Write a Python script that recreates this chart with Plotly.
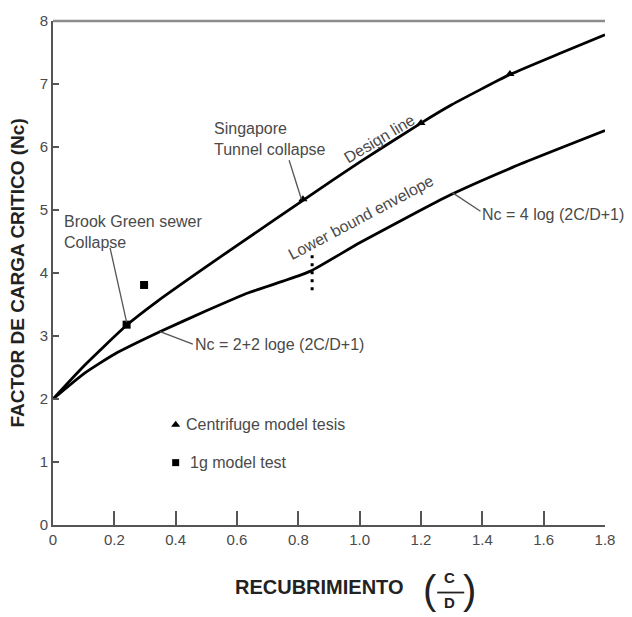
import plotly.graph_objects as go

# Design line (upper curve) read along C/D
design_x = [0, 0.1, 0.24, 0.34, 0.5, 0.61, 0.82, 1.0, 1.2, 1.3, 1.49, 1.65, 1.8]
design_y = [2, 2.52, 3.17, 3.55, 4.1, 4.47, 5.17, 5.76, 6.38, 6.67, 7.15, 7.48, 7.78]

# Lower bound envelope
lower_x = [0, 0.1, 0.2, 0.35, 0.5, 0.64, 0.75, 0.84, 1.0, 1.2, 1.3, 1.5, 1.8]
lower_y = [2, 2.4, 2.71, 3.07, 3.4, 3.69, 3.87, 4.03, 4.48, 5.0, 5.25, 5.68, 6.26]

# Test results
centrifuge_x = [0.815, 1.2, 1.49]
centrifuge_y = [5.17, 6.38, 7.16]
model1g_x = [0.24, 0.297]
model1g_y = [3.18, 3.81]

# Boundary between the two envelope expressions
split_x = [0.845, 0.845]
split_y = [4.28, 3.66]

x_ticks = [0, 0.2, 0.4, 0.6, 0.8, 1.0, 1.2, 1.4, 1.6, 1.8]
x_tick_text = ["0", "0.2", "0.4", "0.6", "0.8", "1.0", "1.2", "1.4", "1.6", "1.8"]
y_ticks = [0, 1, 2, 3, 4, 5, 6, 7, 8]

FONT = "Liberation Sans, Arial, sans-serif"
TXT = "#4a4a4a"
AX = "#555555"

fig = go.Figure()
fig.add_trace(go.Scatter(x=design_x, y=design_y, mode="lines",
                         line=dict(color="black", width=2.8, shape="spline", smoothing=0.5),
                         hoverinfo="skip"))
fig.add_trace(go.Scatter(x=lower_x, y=lower_y, mode="lines",
                         line=dict(color="black", width=2.8, shape="spline", smoothing=0.5),
                         hoverinfo="skip"))
fig.add_trace(go.Scatter(x=split_x, y=split_y, mode="lines",
                         line=dict(color="black", width=3, dash="3px,5px"),
                         hoverinfo="skip"))
fig.add_trace(go.Scatter(x=centrifuge_x, y=centrifuge_y, mode="markers",
                         marker=dict(symbol="triangle-up", size=8, color="black"),
                         hoverinfo="skip"))
fig.add_trace(go.Scatter(x=model1g_x, y=model1g_y, mode="markers",
                         marker=dict(symbol="square", size=8, color="black"),
                         hoverinfo="skip"))

# Key markers
fig.add_trace(go.Scatter(x=[0.4], y=[1.59], mode="markers",
                         marker=dict(symbol="triangle-up", size=8, color="black"),
                         hoverinfo="skip"))
fig.add_trace(go.Scatter(x=[0.4], y=[0.99], mode="markers",
                         marker=dict(symbol="square", size=7, color="black"),
                         hoverinfo="skip"))

annotations = [
    dict(x=0.428, y=1.59, text="Centrifuge model tesis", xanchor="left"),
    dict(x=0.44, y=0.99, text="1g model test", xanchor="left"),
    dict(x=0.52, y=6.12, text="Singapore<br>Tunnel collapse", xanchor="left", align="left"),
    dict(x=0.03, y=4.65, text="Brook Green sewer<br>Collapse", xanchor="left", align="left"),
    dict(x=1.066, y=6.13, text="Design line", textangle=-31),
    dict(x=1.004, y=4.88, text="Lower bound envelope", textangle=-28),
    dict(x=0.458, y=2.86, text="Nc = 2+2 loge (2C/D+1)", xanchor="left"),
    dict(x=1.394, y=4.93, text="Nc = 4 log (2C/D+1)", xanchor="left"),
]
for a in annotations:
    fig.add_annotation(showarrow=False, font=dict(family=FONT, size=16, color=TXT),
                       xref="x", yref="y", yanchor="middle", **a)

# Leader lines from labels to curves
leaders = [
    ((0.77, 5.79), (0.81, 5.17)),
    ((0.186, 4.4), (0.24, 3.22)),
    ((0.349, 3.07), (0.456, 2.87)),
    ((1.301, 5.28), (1.394, 4.98)),
]
for (x0, y0), (x1, y1) in leaders:
    fig.add_shape(type="line", x0=x0, y0=y0, x1=x1, y1=y1, xref="x", yref="y",
                  line=dict(color="#555555", width=1.3))

# Upper frame line
fig.add_shape(type="line", x0=0, x1=1, y0=1, y1=1, xref="paper", yref="paper",
              line=dict(color="#8c8c8c", width=2.5))

# Axis titles
fig.add_annotation(xref="paper", yref="paper", x=-0.066, y=0.5, text="<b>FACTOR DE CARGA CRITICO (Nc)</b>",
                   textangle=-90, showarrow=False, font=dict(family=FONT, size=19, color="#222"),
                   xanchor="center", yanchor="middle")
fig.add_annotation(xref="paper", yref="paper", x=0.482, y=-0.124, text="<b>RECUBRIMIENTO</b>",
                   showarrow=False, font=dict(family=FONT, size=20, color="#222"),
                   xanchor="center", yanchor="middle")
fig.add_annotation(xref="paper", yref="paper", x=0.719, y=-0.104, text="<b>C</b>",
                   showarrow=False, font=dict(family=FONT, size=15, color="#222"),
                   xanchor="center", yanchor="middle")
fig.add_annotation(xref="paper", yref="paper", x=0.719, y=-0.153, text="<b>D</b>",
                   showarrow=False, font=dict(family=FONT, size=15, color="#222"),
                   xanchor="center", yanchor="middle")
fig.add_annotation(xref="paper", yref="paper", x=0.683, y=-0.128, text="(",
                   showarrow=False, font=dict(family=FONT, size=40, color="#222"),
                   xanchor="center", yanchor="middle")
fig.add_annotation(xref="paper", yref="paper", x=0.755, y=-0.128, text=")",
                   showarrow=False, font=dict(family=FONT, size=40, color="#222"),
                   xanchor="center", yanchor="middle")
fig.add_shape(type="line", xref="paper", yref="paper", x0=0.696, x1=0.745, y0=-0.134, y1=-0.134,
              line=dict(color="#222", width=1.8))

fig.update_layout(
    width=632, height=617,
    margin=dict(l=53, r=27, t=17, b=92),
    paper_bgcolor="white", plot_bgcolor="white",
    showlegend=False,
    font=dict(family=FONT, color=TXT),
    xaxis=dict(range=[0, 1.8], tickvals=x_ticks, ticktext=x_tick_text, ticks="inside",
               ticklen=14, tickwidth=1.5, tickcolor=AX, showline=True, linecolor=AX, linewidth=2,
               showgrid=False, zeroline=False, tickfont=dict(family=FONT, size=15, color=TXT)),
    yaxis=dict(range=[0, 8], tickvals=y_ticks, ticks="inside", ticklen=6, tickwidth=1.5,
               tickcolor=AX, showline=True, linecolor=AX, linewidth=2, showgrid=False,
               zeroline=False, tickfont=dict(family=FONT, size=15, color=TXT)),
)

fig.write_html("out.html")
